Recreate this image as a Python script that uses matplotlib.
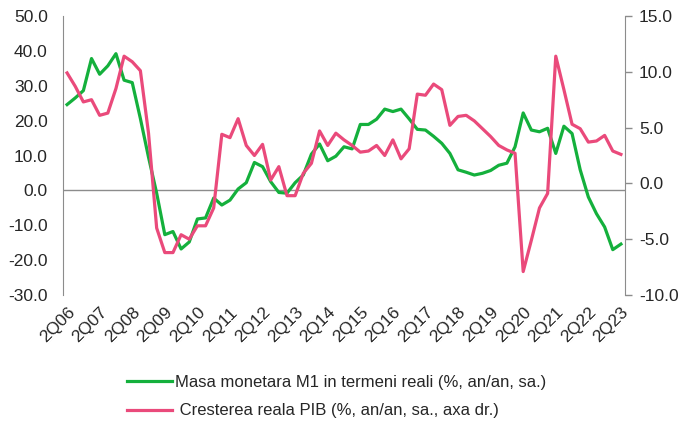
import numpy as np
import matplotlib.pyplot as plt

plt.rcParams['font.family'] = ['Liberation Sans', 'DejaVu Sans']

# quarterly data 2Q06 .. 2Q23
quarters = ['%dQ%02d' % (q, y) for y in range(6, 24) for q in (1, 2, 3, 4)][1:70]

m1_real = [24.6, 26.5, 28.6, 37.8, 33.3, 35.7, 39.2, 31.6, 30.9, 20.6,
           9.5, -0.8, -12.7, -11.8, -16.8, -14.8, -8.2, -7.9, -2.2, -4.2,
           -2.8, 0.4, 2.2, 8.0, 6.8, 2.5, -0.6, -0.8, 2.2, 4.4,
           10.4, 13.3, 8.5, 9.8, 12.5, 11.9, 18.9, 18.9, 20.4, 23.3,
           22.6, 23.3, 20.5, 17.5, 17.3, 15.5, 13.5, 10.6, 5.9, 5.2,
           4.4, 4.9, 5.7, 7.2, 7.8, 12.5, 22.2, 17.3, 16.8, 17.8,
           10.6, 18.4, 16.3, 5.9, -1.9, -6.7, -10.5, -17.0, -15.4]

gdp_real = [9.9, 8.7, 7.3, 7.5, 6.1, 6.3, 8.5, 11.4, 10.9, 10.1,
            4.5, -4.0, -6.2, -6.2, -4.6, -5.0, -3.8, -3.8, -2.2, 4.4,
            4.1, 5.8, 3.4, 2.5, 3.5, 0.3, 1.5, -1.1, -1.1, 0.9,
            1.8, 4.7, 3.4, 4.5, 3.9, 3.4, 2.8, 2.9, 3.4, 2.5,
            3.9, 2.2, 3.1, 8.0, 7.9, 8.9, 8.4, 5.2, 6.0, 6.1,
            5.6, 4.9, 4.2, 3.4, 3.0, 2.7, -7.9, -5.1, -2.2, -0.9,
            11.4, 8.4, 5.3, 4.9, 3.7, 3.8, 4.3, 2.9, 2.6]

label_m1 = 'Masa monetara M1 in termeni reali (%, an/an, sa.)'
label_gdp = ' Cresterea reala PIB (%, an/an, sa., axa dr.)'

green = '#14b03c'
pink = '#ea4a7b'
grey = '#8c8c8c'
txt = '#262626'

x = np.arange(len(quarters))

fig = plt.figure(figsize=(6.81, 4.25), dpi=100)
ax = fig.add_axes([63 / 681, 1 - 295 / 425, (625 - 63) / 681, (295 - 16) / 425])
ax2 = ax.twinx()

ax.axhline(0, color=grey, lw=1, zorder=1)
l1, = ax.plot(x, m1_real, color=green, lw=2.3, label=label_m1, zorder=3)
l2, = ax2.plot(x, gdp_real, color=pink, lw=2.3, label=label_gdp, zorder=3)

ax.set_xlim(-0.5, len(quarters) - 0.5)
ax.set_ylim(-30, 50)
ax.set_yticks(np.arange(-30, 51, 10))
ax.set_yticklabels(['%.1f' % v for v in np.arange(-30, 51, 10)])
ax2.set_ylim(-10, 15)
ax2.set_yticks(np.arange(-10, 16, 5))
ax2.set_yticklabels(['%.1f' % v for v in np.arange(-10, 16, 5)])

ticks = x[::4]
ax.set_xticks(ticks)
ax.set_xticklabels([quarters[i] for i in ticks], rotation=45, ha='right',
                   rotation_mode='anchor')
ax.tick_params(axis='x', length=0, pad=7, labelsize=12.5, colors=txt)
ax.tick_params(axis='y', length=0, pad=11, labelsize=12.5, colors=txt)
ax2.tick_params(axis='y', length=5, width=1, color=grey, pad=5,
                labelsize=12.5, labelcolor=txt)

for a in (ax, ax2):
    a.spines['top'].set_visible(False)
    a.spines['bottom'].set_visible(False)
    a.spines['left'].set_color(grey)
    a.spines['right'].set_color(grey)
ax2.spines['left'].set_visible(False)
ax.spines['right'].set_visible(False)
ax.patch.set_visible(False)

fig.legend(handles=[l1, l2], loc='upper left', bbox_to_anchor=(112 / 681, 1 - 360 / 425),
           frameon=False, fontsize=12, handlelength=2.7, handletextpad=0.2,
           labelspacing=0.8, labelcolor=txt)

fig.savefig('out.png', dpi=100)
